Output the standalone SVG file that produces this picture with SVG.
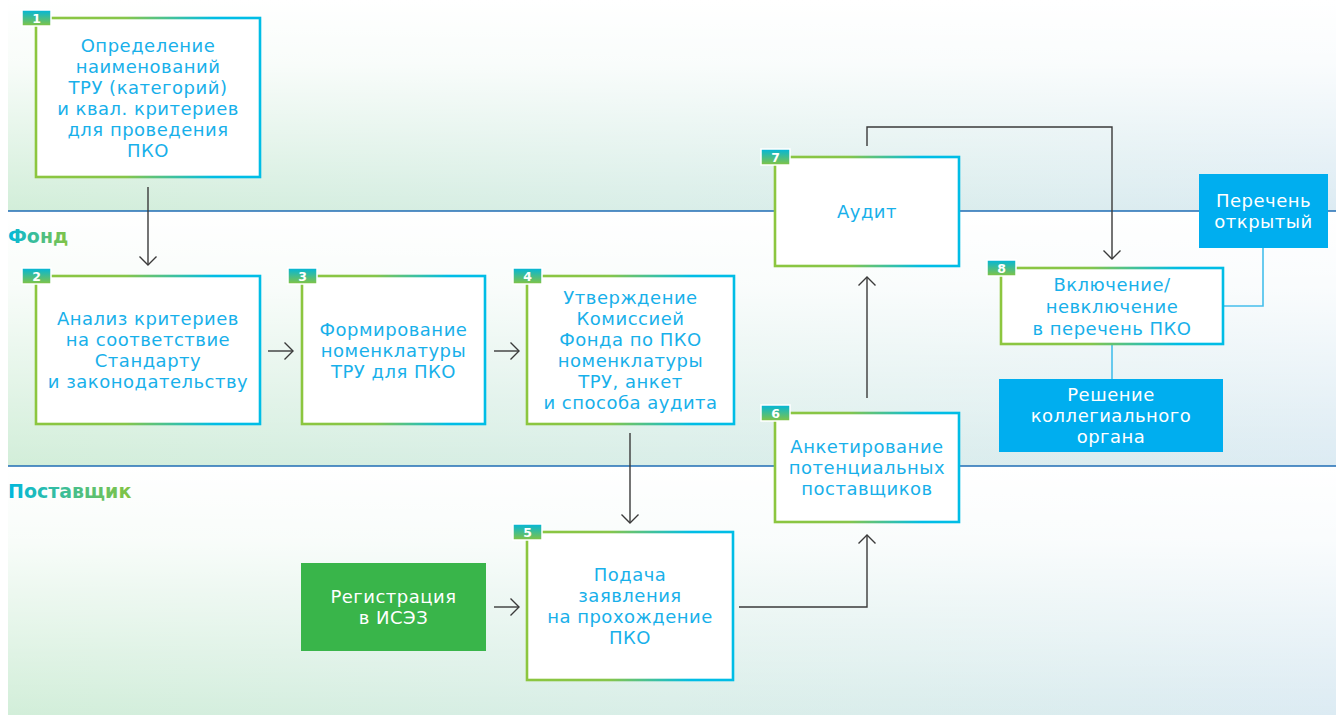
<svg xmlns="http://www.w3.org/2000/svg" width="1336" height="715" viewBox="0 0 1336 715">
<defs>
  <linearGradient id="tint" x1="0" y1="0" x2="1" y2="0">
    <stop offset="0" stop-color="#d2eed9"/>
    <stop offset="0.5" stop-color="#d9eee8"/>
    <stop offset="1" stop-color="#dcebf3"/>
  </linearGradient>
  <linearGradient id="fade" x1="0" y1="0" x2="0" y2="1">
    <stop offset="0" stop-color="#ffffff" stop-opacity="1"/>
    <stop offset="0.3" stop-color="#ffffff" stop-opacity="0.85"/>
    <stop offset="1" stop-color="#ffffff" stop-opacity="0"/>
  </linearGradient>
  <linearGradient id="border" x1="0" y1="0" x2="1" y2="0">
    <stop offset="0" stop-color="#8cc63f"/>
    <stop offset="0.4" stop-color="#86c54a"/>
    <stop offset="0.8" stop-color="#00bde6"/>
    <stop offset="1" stop-color="#00bde6"/>
  </linearGradient>
  <linearGradient id="badge" x1="0" y1="0" x2="0" y2="1">
    <stop offset="0" stop-color="#00b6dc"/>
    <stop offset="1" stop-color="#84c441"/>
  </linearGradient>
  <linearGradient id="lane" x1="0" y1="0" x2="1" y2="0">
    <stop offset="0" stop-color="#00b8de"/>
    <stop offset="1" stop-color="#84c441"/>
  </linearGradient>
  <marker id="ah" viewBox="-11 -10 13 20" refX="0" refY="0" markerWidth="13" markerHeight="20" markerUnits="userSpaceOnUse" orient="auto">
    <path d="M-8.5,-8.5 L0,0 L-8.5,8.5" fill="none" stroke="#3a3a3a" stroke-width="1.4"/>
  </marker>
</defs>
<style>
  .box { fill: #ffffff; stroke: url(#border); stroke-width: 2.6; }
  .bd { fill: url(#badge); stroke: #ffffff; stroke-width: 1.5; }
  .bn { font-family: "DejaVu Sans", sans-serif; font-weight: bold; font-size: 12.5px; fill: #ffffff; text-anchor: middle; }
  .t { font-family: "DejaVu Sans", sans-serif; font-size: 18px; letter-spacing: 0.5px; fill: #18b0ea; text-anchor: middle; }
  .w { font-family: "DejaVu Sans", sans-serif; font-size: 18px; letter-spacing: 0.5px; fill: #ffffff; text-anchor: middle; }
  .lab { font-family: "DejaVu Sans", sans-serif; font-weight: bold; font-size: 19px; fill: url(#lane); }
  .con { fill: none; stroke: #3a3a3a; stroke-width: 1.4; }
  .lnk { fill: none; stroke: #45bfeb; stroke-width: 1.6; }
  .sep { stroke: #1f6db5; stroke-width: 1.5; }
</style>
<rect x="0" y="0" width="1336" height="715" fill="#ffffff"/>
<g id="lanes">
  <rect x="8" y="0" width="1328" height="211" fill="url(#tint)"/>
  <rect x="8" y="0" width="1328" height="211" fill="url(#fade)"/>
  <rect x="8" y="211" width="1328" height="255" fill="url(#tint)"/>
  <rect x="8" y="211" width="1328" height="255" fill="url(#fade)"/>
  <rect x="8" y="466" width="1328" height="249" fill="url(#tint)"/>
  <rect x="8" y="466" width="1328" height="249" fill="url(#fade)"/>
  <line class="sep" x1="8" y1="211" x2="1336" y2="211"/>
  <line class="sep" x1="8" y1="466" x2="1336" y2="466"/>
  <text class="lab" x="8" y="243">Фонд</text>
  <text class="lab" x="8" y="498">Поставщик</text>
</g>
<g id="connectors">
  <path class="con" d="M148,187 V265" marker-end="url(#ah)"/>
  <path class="con" d="M268,351 H293" marker-end="url(#ah)"/>
  <path class="con" d="M494,351 H519" marker-end="url(#ah)"/>
  <path class="con" d="M630,433 V523" marker-end="url(#ah)"/>
  <path class="con" d="M494,607 H519" marker-end="url(#ah)"/>
  <path class="con" d="M739,607 H867 V535" marker-end="url(#ah)"/>
  <path class="con" d="M867,398 V277" marker-end="url(#ah)"/>
  <path class="con" d="M867,146 V127 H1112 V259" marker-end="url(#ah)"/>
  <path class="lnk" d="M1263,248 V306 H1223"/>
  <path class="lnk" d="M1112,344 V379"/>
</g>
<g id="n1">
  <rect class="box" x="36" y="18" width="224" height="159"/>
  <rect class="bd" x="22" y="10" width="29" height="16"/>
  <text class="bn" x="36.5" y="22.5">1</text>
  <text class="t" x="148" y="51.6">Определение</text>
  <text class="t" x="148" y="72.6">наименований</text>
  <text class="t" x="148" y="93.6">ТРУ (категорий)</text>
  <text class="t" x="148" y="114.6">и квал. критериев</text>
  <text class="t" x="148" y="135.6">для проведения</text>
  <text class="t" x="148" y="156.6">ПКО</text>
</g>
<g id="n2">
  <rect class="box" x="36" y="276" width="224" height="148"/>
  <rect class="bd" x="22" y="268" width="29" height="16"/>
  <text class="bn" x="36.5" y="280.5">2</text>
  <text class="t" x="148" y="325.1">Анализ критериев</text>
  <text class="t" x="148" y="346.1">на соответствие</text>
  <text class="t" x="148" y="367.1">Стандарту</text>
  <text class="t" x="148" y="388.1">и законодательству</text>
</g>
<g id="n3">
  <rect class="box" x="302" y="276" width="183" height="148"/>
  <rect class="bd" x="288" y="268" width="29" height="16"/>
  <text class="bn" x="302.5" y="280.5">3</text>
  <text class="t" x="393.5" y="335.6">Формирование</text>
  <text class="t" x="393.5" y="356.6">номенклатуры</text>
  <text class="t" x="393.5" y="377.6">ТРУ для ПКО</text>
</g>
<g id="n4">
  <rect class="box" x="527" y="276" width="207" height="148"/>
  <rect class="bd" x="513" y="268" width="29" height="16"/>
  <text class="bn" x="527.5" y="280.5">4</text>
  <text class="t" x="630.5" y="304.1">Утверждение</text>
  <text class="t" x="630.5" y="325.1">Комиссией</text>
  <text class="t" x="630.5" y="346.1">Фонда по ПКО</text>
  <text class="t" x="630.5" y="367.1">номенклатуры</text>
  <text class="t" x="630.5" y="388.1">ТРУ, анкет</text>
  <text class="t" x="630.5" y="409.1">и способа аудита</text>
</g>
<g id="n5">
  <rect class="box" x="527" y="532" width="206" height="148"/>
  <rect class="bd" x="513" y="524" width="29" height="16"/>
  <text class="bn" x="527.5" y="536.5">5</text>
  <text class="t" x="630" y="581.1">Подача</text>
  <text class="t" x="630" y="602.1">заявления</text>
  <text class="t" x="630" y="623.1">на прохождение</text>
  <text class="t" x="630" y="644.1">ПКО</text>
</g>
<g id="n6">
  <rect class="box" x="775" y="413" width="184" height="109"/>
  <rect class="bd" x="761" y="405" width="29" height="16"/>
  <text class="bn" x="775.5" y="417.5">6</text>
  <text class="t" x="867" y="453.1">Анкетирование</text>
  <text class="t" x="867" y="474.1">потенциальных</text>
  <text class="t" x="867" y="495.1">поставщиков</text>
</g>
<g id="n7">
  <rect class="box" x="775" y="157" width="184" height="109"/>
  <rect class="bd" x="761" y="149" width="29" height="16"/>
  <text class="bn" x="775.5" y="161.5">7</text>
  <text class="t" x="867" y="218.1">Аудит</text>
</g>
<g id="n8">
  <rect class="box" x="1001" y="268" width="222" height="76"/>
  <rect class="bd" x="987" y="260" width="29" height="16"/>
  <text class="bn" x="1001.5" y="272.5">8</text>
  <text class="t" x="1112" y="290.6">Включение/</text>
  <text class="t" x="1112" y="312.6">невключение</text>
  <text class="t" x="1112" y="334.6">в перечень ПКО</text>
</g>
<g id="list">
  <rect x="1199" y="174" width="129" height="74" fill="#00aeef"/>
  <text class="w" x="1263.5" y="207.1">Перечень</text>
  <text class="w" x="1263.5" y="228.1">открытый</text>
</g>
<g id="decision">
  <rect x="999" y="379" width="224" height="73" fill="#00aeef"/>
  <text class="w" x="1111" y="401.1">Решение</text>
  <text class="w" x="1111" y="422.1">коллегиального</text>
  <text class="w" x="1111" y="443.1">органа</text>
</g>
<g id="reg">
  <rect x="301" y="563" width="185" height="88" fill="#39b54a"/>
  <text class="w" x="393.5" y="603.1">Регистрация</text>
  <text class="w" x="393.5" y="624.1">в ИСЭЗ</text>
</g>
</svg>
